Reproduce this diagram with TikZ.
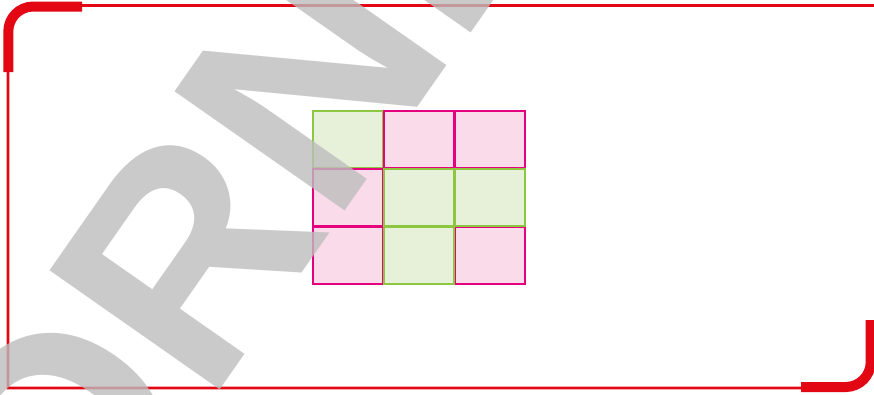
\documentclass[tikz,border=0pt]{standalone}
\usepackage{xcolor}
\definecolor{FrameRed}{HTML}{E30613}
\definecolor{CellGreen}{HTML}{8DC63F}
\definecolor{CellGreenFill}{HTML}{E7F1DA}
\definecolor{CellPink}{HTML}{E5007D}
\definecolor{CellPinkFill}{HTML}{F9DBE9}
\definecolor{StampGray}{HTML}{BDBDBD}
\usepackage{fontspec}
\newfontfamily\stampfont{Liberation Sans}
\usepackage{tikz}
\usetikzlibrary{positioning}
\tikzset{
  framethin/.style={draw=FrameRed,line width=2.6pt},
  framethick/.style={draw=FrameRed,line width=10pt,rounded corners=25pt},
  gcell/.style={draw=CellGreen,fill=CellGreenFill,line width=1.6pt,minimum width=69.7pt,minimum height=56.7pt,inner sep=0pt},
  pcell/.style={draw=CellPink,fill=CellPinkFill,line width=1.6pt,minimum width=69.7pt,minimum height=56.7pt,inner sep=0pt},
  stamp/.style={text=StampGray,text opacity=0.8,inner sep=0pt,anchor=base west,rotate=55,font=\stampfont\bfseries\fontsize{302}{302}\selectfont}
}
\begin{document}
\begin{tikzpicture}[x=1pt,y=-1pt,node distance=0pt]
  \useasboundingbox (0,0) rectangle (874,394);
  \begin{scope}
    \clip (0,0) rectangle (874,394);
    % frame
    \draw[framethin] (874,5.5) [rounded corners=25pt] -| (8,150)
      [sharp corners] |- (400,388) [rounded corners=25pt] -| (871,320);
    \draw[framethick] (8.3,72) |- (82,6.5);
    \draw[framethick] (870.7,320) |- (801,387);
    % grid
    \node[gcell] (c11) at (347.65,139.15) {};
    \node[pcell,right=of c11] (c12) {};
    \node[pcell,right=of c12] (c13) {};
    \node[pcell,below=of c11] (c21) {};
    \node[gcell,right=of c21] (c22) {};
    \node[gcell,right=of c22] (c23) {};
    \node[pcell,below=of c21] (c31) {};
    \node[gcell,right=of c31] (c32) {};
    \node[pcell,right=of c32] (c33) {};
    % watermark
    \node[stamp] (mark) at (74,599) {ÖRNEK};
  \end{scope}
\end{tikzpicture}
\end{document}
